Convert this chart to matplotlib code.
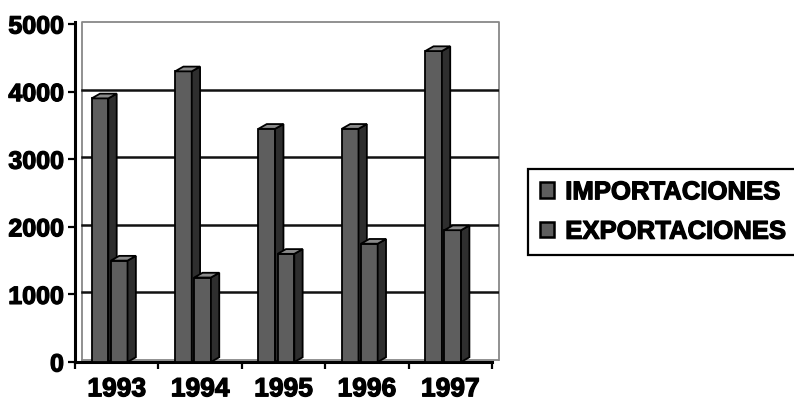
import matplotlib.pyplot as plt
import matplotlib.patheffects as pe
from matplotlib.patches import Polygon, Patch
import numpy as np

plt.rcParams['font.family'] = ['Liberation Sans', 'DejaVu Sans']

years = ['1993', '1994', '1995', '1996', '1997']
importaciones = [3900, 4300, 3450, 3450, 4600]
exportaciones = [1500, 1250, 1600, 1750, 1950]
yticks = [0, 1000, 2000, 3000, 4000, 5000]

# pseudo 3d geometry (category units / data units)
bar_w = 0.2
bar_dx = 0.1
bar_dy = 70
wall_dx = 0.084
wall_dy = 30
x_right = 5.085
y_top = 5030

front = '#5e5e5e'
side = '#2e2e2e'
top = '#8a8a8a'

heavy = [pe.withStroke(linewidth=0.9, foreground='black')]

fig = plt.figure(figsize=(7.94, 4.04), dpi=100)
ax = fig.add_axes([75/794, 42/404, (499-75)/794, 340/404])
ax.set_xlim(0, x_right)
ax.set_ylim(0, y_top)


def bar3d(x0, v, z):
    ax.bar(x0, v, width=bar_w, align='edge', color=front,
           edgecolor='black', linewidth=1.3, zorder=z)
    x1 = x0 + bar_w
    ax.add_patch(Polygon([(x1, 0), (x1 + bar_dx, bar_dy), (x1 + bar_dx, v + bar_dy), (x1, v)],
                         closed=True, facecolor=side, edgecolor='black', lw=1.3, zorder=z))
    ax.add_patch(Polygon([(x0, v), (x0 + bar_dx, v + bar_dy), (x1 + bar_dx, v + bar_dy), (x1, v)],
                         closed=True, facecolor=top, edgecolor='black', lw=1.3, zorder=z))


# back wall and gridlines
ax.plot([wall_dx, wall_dx, x_right, x_right], [wall_dy, y_top - 5, y_top - 5, wall_dy],
        color='#888888', lw=1.3, zorder=1, clip_on=False)
ax.plot([wall_dx, x_right], [wall_dy, wall_dy], color='#888888', lw=1.3, zorder=1)
for t in yticks[1:-1]:
    ax.plot([wall_dx, x_right], [t + wall_dy, t + wall_dy], color='#111111', lw=1.8, zorder=1)

for i in range(len(years)):
    bar3d(i + 0.2, importaciones[i], 3)
    bar3d(i + 0.43, exportaciones[i], 4)

ax.spines['top'].set_visible(False)
ax.spines['right'].set_visible(False)
ax.spines['left'].set_linewidth(2.2)
ax.spines['bottom'].set_linewidth(2.2)
ax.spines['bottom'].set_bounds(0, 5)

ax.set_yticks(yticks)
ax.set_yticklabels([str(t) for t in yticks], fontsize=18, fontweight='bold')
ax.set_xticks(np.arange(0, 6))
ax.set_xticklabels([])
ax.set_xticks(np.arange(len(years)) + 0.5, minor=True)
ax.set_xticklabels(years, minor=True, fontsize=19, fontweight='bold')
ax.tick_params(axis='x', which='minor', length=0, pad=11)
ax.tick_params(axis='x', which='major', length=5, width=1.6, direction='out')
ax.tick_params(axis='y', length=5, width=1.6, pad=3)
for lbl in ax.get_yticklabels() + ax.get_xticklabels(minor=True):
    lbl.set_path_effects(heavy)

handles = [Patch(facecolor=front, edgecolor='black', lw=1.8),
           Patch(facecolor=front, edgecolor='black', lw=1.8)]
leg = fig.legend(handles, ['IMPORTACIONES', 'EXPORTACIONES'], loc='center left',
                 bbox_to_anchor=(528/794, 1 - 212/404), borderaxespad=0,
                 prop={'size': 18.5, 'weight': 'bold'}, handlelength=0.55, handleheight=0.55,
                 handletextpad=0.45, labelspacing=0.6, borderpad=0.45, fancybox=False,
                 framealpha=1)
leg.get_frame().set_edgecolor('black')
leg.get_frame().set_linewidth(1.6)
for txt in leg.get_texts():
    txt.set_path_effects(heavy)

fig.savefig('out.png', dpi=100)
